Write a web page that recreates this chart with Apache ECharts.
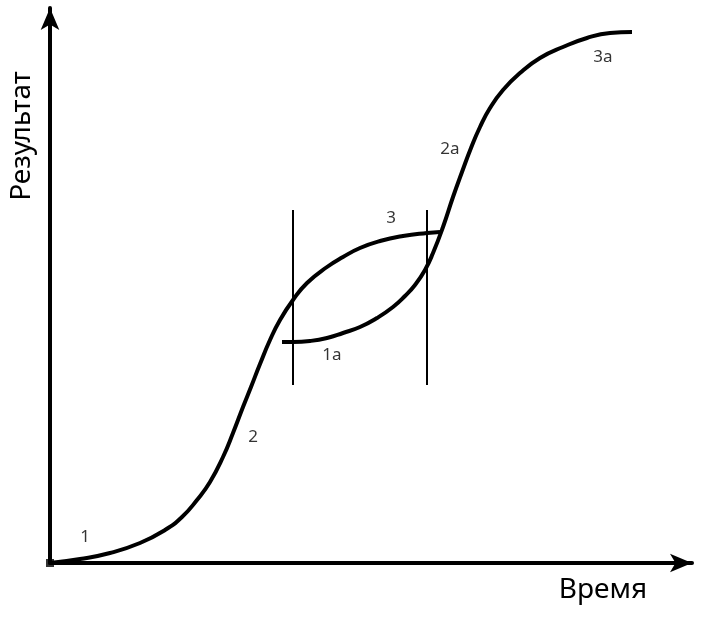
<!DOCTYPE html>
<html><head><meta charset="utf-8">
<script src="https://cdn.jsdelivr.net/npm/echarts@6/dist/echarts.min.js"></script>
<style>html,body{margin:0;padding:0;background:#fff}#c{width:703px;height:617px}</style>
</head><body><div id="c"></div>
<script>
// Curve 1 (first S-curve: 1 -> 2 -> 3)
const curve1X = [0, 30, 60, 90, 115, 132, 147, 160, 173, 183, 193, 201, 210, 220, 230, 243, 257, 277, 293, 310, 330, 353, 377, 390];
const curve1Y = [0, 4, 10, 20, 33, 46, 63, 81, 106, 130, 156, 176, 199, 223, 243, 263, 280, 296, 306, 315, 322, 327, 330, 331];
// Curve 2 (second S-curve: 1a -> 2a -> 3a)
const curve2X = [232, 243, 260, 277, 293, 310, 327, 343, 355, 365, 375, 383, 393, 403, 412, 421, 430, 440, 453, 470, 490, 513, 537, 560, 582];
const curve2Y = [221, 221, 222, 225, 230, 236, 245, 256, 267, 278, 293, 310, 336, 366, 391, 415, 436, 455, 473, 490, 505, 516, 525, 530, 531];
// Vertical boundary lines
const vLineX = [243, 377];
const vLineY = [178, 353];
// Stage labels
const labelText = ['1', '2', '3', '1a', '2a', '3a'];
const labelX = [35, 203, 341, 282, 400, 553];
const labelY = [26, 126, 345, 208, 414, 506];

const FONT = '"Noto Sans", "Open Sans", sans-serif';
const zip = (xs, ys) => xs.map((x, i) => [x, ys[i]]);

const series = [
  { type: 'line', data: zip(curve1X, curve1Y), smooth: 0.5, showSymbol: false,
    lineStyle: { color: '#000', width: 4 }, z: 3 },
  { type: 'line', data: zip(curve2X, curve2Y), smooth: 0.5, showSymbol: false,
    lineStyle: { color: '#000', width: 4 }, z: 3 },
];
vLineX.forEach(x => series.push({ type: 'line', data: [[x, vLineY[0]], [x, vLineY[1]]],
  showSymbol: false, lineStyle: { color: '#000', width: 2 }, z: 2 }));
series.push({ type: 'scatter', data: labelText.map((t, i) => ({ value: [labelX[i], labelY[i]], name: t })),
  symbolSize: 0, label: { show: true, formatter: p => p.name, position: 'inside',
  color: '#000', fontSize: 17, fontFamily: FONT } });
series.push({ type: 'scatter', data: [[0, 0]], symbol: 'rect', symbolSize: 8,
  itemStyle: { color: '#000' }, z: 5 });

const chart = echarts.init(document.getElementById('c'));
chart.setOption({
  animation: false,
  grid: { left: 50, right: 11, top: 8, bottom: 54 },
  xAxis: { type: 'value', min: 0, max: 642, splitLine: { show: false },
    axisTick: { show: false }, axisLabel: { show: false },
    axisLine: { lineStyle: { color: '#000', width: 4 }, symbol: ['none', 'arrow'], symbolSize: [14, 22], symbolOffset: [0, 0] } },
  yAxis: { type: 'value', min: 0, max: 555, splitLine: { show: false },
    axisTick: { show: false }, axisLabel: { show: false },
    axisLine: { lineStyle: { color: '#000', width: 4 }, symbol: ['none', 'arrow'], symbolSize: [14, 22], symbolOffset: [0, 0] } },
  graphic: [
    { type: 'text', x: 603, y: 590, style: { text: 'Время', font: '28px ' + FONT, fill: '#000', align: 'center', verticalAlign: 'middle' } },
    { type: 'text', x: 22, y: 136, rotation: Math.PI / 2, style: { text: 'Результат', font: '28px ' + FONT, fill: '#000', align: 'center', verticalAlign: 'middle' } }
  ],
  series
});
</script></body></html>
